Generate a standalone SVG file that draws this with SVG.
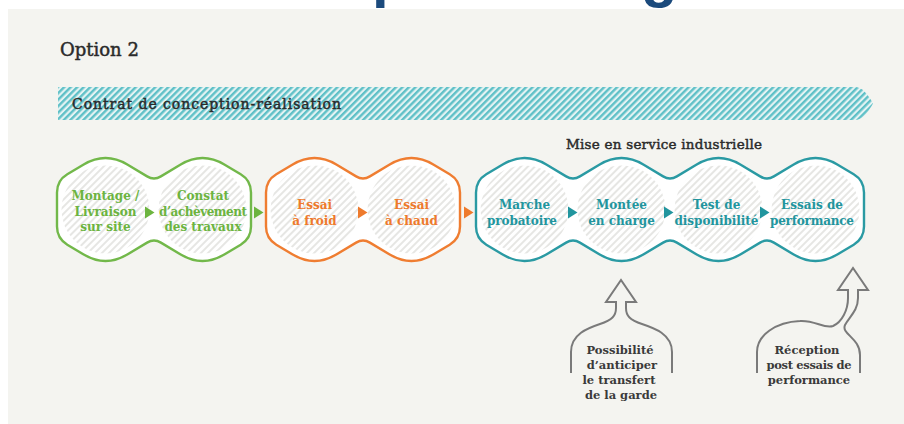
<svg xmlns="http://www.w3.org/2000/svg" width="904" height="424" viewBox="0 0 904 424">
  <defs>
    <pattern id="hatchGray" width="5" height="5" patternUnits="userSpaceOnUse" patternTransform="rotate(45)">
      <rect width="5" height="5" fill="#ffffff"/>
      <line x1="1" y1="0" x2="1" y2="5" stroke="#e0e0dd" stroke-width="1.6"/>
    </pattern>
    <pattern id="hatchTeal" width="4.6" height="4.6" patternUnits="userSpaceOnUse" patternTransform="rotate(45)">
      <rect width="4.6" height="4.6" fill="#e4f3f3"/>
      <line x1="1.2" y1="0" x2="1.2" y2="4.6" stroke="#5fc0c7" stroke-width="2.4"/>
    </pattern>
    <path id="chain2" d="M0,17 L0,-17 Q0,-29 10.3,-35.16 L26.7,-44.95 Q48.5,-58 70.3,-44.95 L90.1,-33.1 Q97,-29 103.9,-33.1 L123.7,-44.95 Q145.5,-58 167.3,-44.95 L183.7,-35.16 Q194,-29 194,-17 L194,17 Q194,29 183.7,35.16 L167.3,44.95 Q145.5,58 123.7,44.95 L103.9,33.1 Q97,29 90.1,33.1 L70.3,44.95 Q48.5,58 26.7,44.95 L10.3,35.16 Q0,29 0,17 Z"/>
    <path id="chain4" d="M0,17 L0,-17 Q0,-29 10.3,-35.16 L26.7,-44.95 Q48.5,-58 70.3,-44.95 L90.1,-33.1 Q97,-29 103.9,-33.1 L123.7,-44.95 Q145.5,-58 167.3,-44.95 L187.1,-33.1 Q194,-29 200.9,-33.1 L220.7,-44.95 Q242.5,-58 264.3,-44.95 L284.1,-33.1 Q291,-29 297.9,-33.1 L317.7,-44.95 Q339.5,-58 361.3,-44.95 L377.7,-35.16 Q388,-29 388,-17 L388,17 Q388,29 377.7,35.16 L361.3,44.95 Q339.5,58 317.7,44.95 L297.9,33.1 Q291,29 284.1,33.1 L264.3,44.95 Q242.5,58 220.7,44.95 L200.9,33.1 Q194,29 187.1,33.1 L167.3,44.95 Q145.5,58 123.7,44.95 L103.9,33.1 Q97,29 90.1,33.1 L70.3,44.95 Q48.5,58 26.7,44.95 L10.3,35.16 Q0,29 0,17 Z"/>
    <polygon id="tri" points="0,-6 9.5,0 0,6"/>
  </defs>
  <style>
    .slab { font-family: "DejaVu Serif", "Liberation Serif", serif; }
    .heavy { stroke: #2a2a2a; stroke-width: 0.45; }
    .lbl { font-family: "DejaVu Serif", "Liberation Serif", serif; font-weight: bold; font-size: 12px; text-anchor: middle; }
    .g { fill: #6cb43f; }
    .o { fill: #ee7a2c; }
    .t { fill: #21959e; }
    .note { font-family: "DejaVu Serif", "Liberation Serif", serif; font-weight: bold; font-size: 11.5px; fill: #3a3a3a; text-anchor: middle; }
    .chain { fill: #ffffff; stroke-width: 2.4; }
    .inner { fill: url(#hatchGray); }
    .bigarrow { fill: none; stroke: #7a7a7a; stroke-width: 2; stroke-linejoin: miter; }
  </style>

  <rect x="0" y="0" width="904" height="424" fill="#ffffff"/>
  <text x="372" y="-4" font-family="Liberation Sans, Arial, sans-serif" font-weight="bold" font-size="60" fill="#1b4a7c">p</text>
  <text x="641" y="-4" font-family="Liberation Sans, Arial, sans-serif" font-weight="bold" font-size="60" fill="#1b4a7c">g</text>
  <rect x="8" y="9" width="896" height="415" fill="#f4f4f0"/>

  <text x="60" y="56" class="slab heavy" font-size="18" fill="#2b2b2b">Option 2</text>

  <g id="banner">
    <path d="M58,87 L855,87 Q864,87 873,103.5 Q864,120 855,120 L58,120 Z" fill="url(#hatchTeal)"/>
    <text x="72" y="109" class="slab heavy" font-size="14" fill="#2a2a2a" stroke-width="0.35" textLength="269">Contrat de conception-réalisation</text>
  </g>

  <g id="green-group">
    <use href="#chain2" transform="translate(57,209.5)" class="chain" stroke="#72b84a"/>
    <circle cx="105.5" cy="209.5" r="44" class="inner"/>
    <circle cx="202.5" cy="209.5" r="44" class="inner"/>
  </g>
  <g id="node-montage">
    <text class="lbl g" x="105.5" y="200">Montage /</text>
    <text class="lbl g" x="105.5" y="215.5">Livraison</text>
    <text class="lbl g" x="105.5" y="231">sur site</text>
  </g>
  <g id="node-constat">
    <text class="lbl g" x="203" y="200">Constat</text>
    <text class="lbl g" x="203" y="215.5" textLength="88">d’achèvement</text>
    <text class="lbl g" x="203" y="231">des travaux</text>
  </g>

  <g id="orange-group">
    <use href="#chain2" transform="translate(266,209.5)" class="chain" stroke="#ef7d31"/>
    <circle cx="314.5" cy="209.5" r="44" class="inner"/>
    <circle cx="411.5" cy="209.5" r="44" class="inner"/>
  </g>
  <g id="node-froid">
    <text class="lbl o" x="314.5" y="209">Essai</text>
    <text class="lbl o" x="314.5" y="224.5">à froid</text>
  </g>
  <g id="node-chaud">
    <text class="lbl o" x="411.5" y="209">Essai</text>
    <text class="lbl o" x="411.5" y="224.5">à chaud</text>
  </g>

  <g id="teal-group">
    <text x="664" y="149" class="slab heavy" font-size="13.5" fill="#2a2a2a" stroke-width="0.35" text-anchor="middle" textLength="196">Mise en service industrielle</text>
    <use href="#chain4" transform="translate(476,209.5)" class="chain" stroke="#2a9aa3"/>
    <circle cx="524.5" cy="209.5" r="44" class="inner"/>
    <circle cx="621.5" cy="209.5" r="44" class="inner"/>
    <circle cx="718.5" cy="209.5" r="44" class="inner"/>
    <circle cx="815.5" cy="209.5" r="44" class="inner"/>
  </g>
  <g id="node-marche">
    <text class="lbl t" x="524.5" y="209">Marche</text>
    <text class="lbl t" x="522" y="224.5" textLength="70">probatoire</text>
  </g>
  <g id="node-montee">
    <text class="lbl t" x="621.5" y="209">Montée</text>
    <text class="lbl t" x="621.5" y="224.5">en charge</text>
  </g>
  <g id="node-test">
    <text class="lbl t" x="716.5" y="209">Test de</text>
    <text class="lbl t" x="716.5" y="224.5" textLength="84">disponibilité</text>
  </g>
  <g id="node-perf">
    <text class="lbl t" x="812" y="209">Essais de</text>
    <text class="lbl t" x="812" y="224.5" textLength="84">performance</text>
  </g>

  <g id="connectors">
    <use href="#tri" x="145" y="212.5" class="g"/>
    <use href="#tri" x="254" y="212.5" class="g"/>
    <use href="#tri" x="358" y="212.5" class="o"/>
    <use href="#tri" x="464" y="212.5" class="o"/>
    <use href="#tri" x="568" y="212.5" class="t"/>
    <use href="#tri" x="664" y="212.5" class="t"/>
    <use href="#tri" x="760" y="212.5" class="t"/>
  </g>

  <g id="arrow-garde">
    <path class="bigarrow" d="M571,373 L571,352 C571,334 588,328 600,324 C612,320 616,316 616,308 L616,302 L606,302 L621,280 L636,302 L626,302 L626,308 C626,316 630,320 642,324 C654,328 672,334 672,352 L672,373"/>
    <text class="note" x="620" y="354">Possibilité</text>
    <text class="note" x="622" y="369">d’anticiper</text>
    <text class="note" x="619" y="384">le transfert</text>
    <text class="note" x="621" y="399">de la garde</text>
  </g>

  <g id="arrow-reception">
    <path class="bigarrow" d="M757,373 L757,352 C757,335 776,322 800,321 C815,320 824,329 833,326 C842,322 848,310 848,298 L848,290 L838,290 L853,268 L868,290 L858,290 L858,298 C858,311 849,317 845,325 C841,334 860,338 860,355 L860,373"/>
    <text class="note" x="807" y="354">Réception</text>
    <text class="note" x="809" y="369" textLength="85">post essais de</text>
    <text class="note" x="809" y="384">performance</text>
  </g>
</svg>
